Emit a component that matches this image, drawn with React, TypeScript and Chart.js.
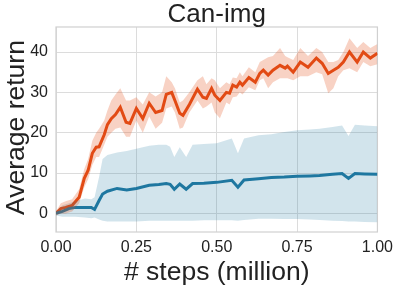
import React, { useEffect, useRef } from "react";
import { Chart, registerables } from "chart.js";

Chart.register(...registerables);

const title = "Can-img";
const xLabel = "# steps (million)";
const yLabel = "Average return";
const xTicks = [0, 0.25, 0.5, 0.75, 1.0];
const yTicks = [0, 10, 20, 30, 40];

const orangeSteps = [0.0, 0.015, 0.03, 0.05, 0.072, 0.088, 0.1, 0.113, 0.125, 0.134, 0.15, 0.16, 0.172, 0.185, 0.2, 0.218, 0.23, 0.25, 0.27, 0.29, 0.31, 0.33, 0.343, 0.36, 0.37, 0.385, 0.395, 0.415, 0.44, 0.457, 0.468, 0.484, 0.494, 0.51, 0.53, 0.54, 0.55, 0.562, 0.572, 0.58, 0.6, 0.62, 0.634, 0.645, 0.66, 0.675, 0.697, 0.713, 0.72, 0.738, 0.76, 0.784, 0.81, 0.828, 0.847, 0.863, 0.878, 0.894, 0.913, 0.937, 0.956, 0.978, 1.0];
const orangeMean = [0, 1.2, 1.5, 2, 4, 8.7, 10.7, 14.9, 16.4, 16.5, 19.5, 22, 23.5, 24.5, 26.3, 22.6, 22.3, 26, 23.5, 27.3, 25, 25.5, 29.5, 30, 28, 24.8, 24.3, 27, 30.8, 28.8, 28.5, 31, 29.3, 28, 30, 29.8, 31.8, 31.3, 32.5, 31.8, 33.7, 32.5, 34.7, 35.5, 34.3, 35.5, 36.7, 36, 36.5, 35, 37.5, 36.2, 38.5, 37.2, 34.7, 35.5, 36.2, 37.5, 40, 37.5, 40, 38.5, 39.7];
const orangeLower = [-0.5, 0, 0, 0.5, 2.5, 6.5, 8.5, 12, 14, 14, 17, 19, 20, 21, 21.3, 19, 19, 23, 20, 24, 21, 22.5, 26, 26.5, 25, 21, 21.3, 25, 28, 26, 26.5, 27.5, 25, 23.6, 27.5, 27, 28.8, 29, 30, 29.5, 31.3, 30.5, 33, 33.5, 31, 32.5, 33.5, 33.5, 33.5, 33, 34, 34, 35, 34.5, 29.8, 31, 34, 35.5, 36, 35, 37.5, 36.5, 37];
const orangeUpper = [0.5, 2.5, 3, 3.5, 6, 11, 13.5, 18, 20, 21, 23, 25.5, 28, 29.5, 31, 28, 28, 28.8, 27, 30, 29, 30, 34, 32.5, 31, 27.5, 28, 30, 33, 34, 32, 33.5, 33, 31, 32.5, 32, 33.7, 33.5, 35, 34, 36.2, 35, 37.5, 38, 38.7, 39, 41, 39, 38.7, 38, 41, 39, 41, 40, 37.5, 37.5, 38, 40, 43.4, 41, 42.5, 41, 42];

const blueSteps = [0.0, 0.02, 0.04, 0.06, 0.09, 0.11, 0.12, 0.134, 0.145, 0.16, 0.19, 0.22, 0.25, 0.29, 0.32, 0.343, 0.355, 0.368, 0.385, 0.405, 0.425, 0.46, 0.5, 0.547, 0.566, 0.585, 0.63, 0.67, 0.71, 0.75, 0.79, 0.82, 0.86, 0.89, 0.91, 0.93, 0.96, 1.0];
const blueMean = [0, 0.5, 1.2, 1.5, 1.5, 1.5, 1, 3.2, 4.8, 5.5, 6.2, 5.8, 6.2, 7, 7.2, 7.4, 7.2, 6, 7.3, 6, 7.4, 7.5, 7.7, 8.2, 6.5, 8.3, 8.6, 8.9, 9, 9.2, 9.3, 9.4, 9.7, 9.9, 8.7, 9.9, 9.8, 9.7];
const blueLower = [-0.5, -0.8, -0.8, -0.8, -1, -1.2, -1, -1.5, -1.8, -2, -2, -2, -2, -1.8, -1.8, -1.8, -1.8, -1.8, -1.8, -1.8, -1.8, -1.7, -1.7, -1.7, -1.8, -1.6, -1.3, -1.3, -1.4, -1.4, -1.5, -1.6, -1.8, -1.9, -2, -2, -2.1, -2.2];
const blueUpper = [0.5, 2, 2.5, 3, 3.7, 3.5, 4, 9, 13.5, 14.5, 15.1, 15.5, 16, 16.8, 17, 17, 16.5, 14, 16.4, 14, 17, 17.2, 17.4, 18.6, 14.9, 18.6, 19.4, 19.6, 20.2, 20.6, 20.8, 21, 21.4, 21.8, 19.2, 22, 21.8, 21.6];

const ORANGE = "rgb(226,74,20)";
const ORANGE_FILL = "rgba(226,74,20,0.25)";
const BLUE = "rgb(31,119,160)";
const BLUE_FILL = "rgba(31,119,160,0.2)";
const FONT = "'Liberation Sans', Arial, sans-serif";

function pts(xs: number[], ys: number[]) {
  return xs.map((x, i) => ({ x, y: ys[i] }));
}

const textPlugin = {
  id: "textPlugin",
  beforeDatasetsDraw(chart: any) {
    const { ctx, chartArea } = chart;
    ctx.save();
    ctx.strokeStyle = "#d0d0d0";
    ctx.lineWidth = 1.2;
    ctx.strokeRect(chartArea.left, chartArea.top, chartArea.right - chartArea.left, chartArea.bottom - chartArea.top);
    ctx.restore();
  },
  afterDraw(chart: any) {
    const { ctx, chartArea } = chart;
    const cx = (chartArea.left + chartArea.right) / 2;
    const cy = (chartArea.top + chartArea.bottom) / 2;
    ctx.save();
    ctx.fillStyle = "#222";
    ctx.textAlign = "center";
    ctx.textBaseline = "alphabetic";
    ctx.font = `26px ${FONT}`;
    ctx.fillText(title, cx, 22);
    ctx.font = `26.5px ${FONT}`;
    ctx.fillText(xLabel, cx, 280);
    ctx.translate(24, cy - 2);
    ctx.rotate(-Math.PI / 2);
    ctx.fillText(yLabel, 0, 0);
    ctx.restore();
  },
};

export default function App() {
  const ref = useRef<HTMLCanvasElement | null>(null);
  useEffect(() => {
    if (!ref.current) return;
    const line = (data: any[], color: string, fill: any, bw: number, bg: string) => ({
      data,
      borderColor: color,
      backgroundColor: bg,
      borderWidth: bw,
      pointRadius: 0,
      fill,
      tension: 0,
    });
    const chart = new Chart(ref.current, {
      type: "line",
      data: {
        datasets: [
          line(pts(orangeSteps, orangeUpper), "transparent", "+1", 0, ORANGE_FILL),
          line(pts(orangeSteps, orangeLower), "transparent", false, 0, ORANGE_FILL),
          line(pts(blueSteps, blueUpper), "transparent", "+1", 0, BLUE_FILL),
          line(pts(blueSteps, blueLower), "transparent", false, 0, BLUE_FILL),
          line(pts(blueSteps, blueMean), BLUE, false, 3, BLUE),
          line(pts(orangeSteps, orangeMean), ORANGE, false, 3, ORANGE),
        ],
      },
      plugins: [textPlugin],
      options: {
        animation: false,
        responsive: false,
        devicePixelRatio: 1,
        layout: { padding: { left: 0, top: 27, right: 21, bottom: 0 } },
        plugins: { legend: { display: false }, tooltip: { enabled: false }, title: { display: false } },
        scales: {
          x: {
            type: "linear",
            min: 0,
            max: 1,
            afterFit(s: any) { s.height = 54; },
            afterBuildTicks(s: any) { s.ticks = xTicks.map((v) => ({ value: v })); },
            grid: { color: "#dcdcdc", drawTicks: false, lineWidth: 1 },
            border: { display: false },
            ticks: {
              padding: 6,
              color: "#222",
              font: { family: FONT, size: 16 },
              callback: (v: any) => Number(v).toFixed(2),
            },
          },
          y: {
            type: "linear",
            min: -4.6,
            max: 46.2,
            afterFit(s: any) { s.width = 56; },
            afterBuildTicks(s: any) { s.ticks = yTicks.map((v) => ({ value: v })); },
            grid: { color: "#dcdcdc", drawTicks: false, lineWidth: 1 },
            border: { display: false },
            ticks: {
              padding: 8,
              color: "#222",
              font: { family: FONT, size: 16 },
              callback: (v: any) => String(v),
            },
          },
        },
      },
    });
    return () => chart.destroy();
  }, []);
  return (
    <div style={{ position: "fixed", left: 0, top: 0, width: 399, height: 286, background: "#fff" }}>
      <canvas ref={ref} width={399} height={286} style={{ width: 399, height: 286 }} />
    </div>
  );
}
